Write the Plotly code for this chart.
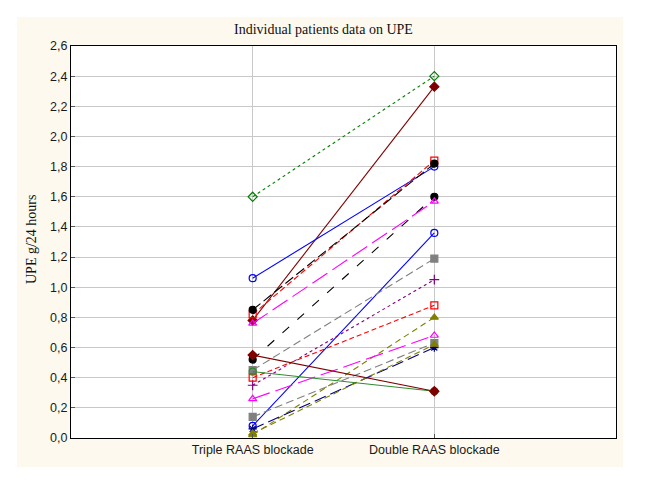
import plotly.graph_objects as go

categories = ["Triple RAAS blockade", "Double RAAS blockade"]
triple = [1.60, 0.78, 1.06, 0.82, 0.85, 0.52, 0.76, 0.08, 0.45, 0.35, 0.40, 0.02, 0.26, 0.14, 0.06, 0.44, 0.55, 0.03]
double = [2.40, 2.33, 1.80, 1.84, 1.82, 1.60, 1.57, 1.36, 1.19, 1.05, 0.88, 0.80, 0.68, 0.63, 0.60, 0.31, 0.31, 0.62]
y_ticks = [0.0, 0.2, 0.4, 0.6, 0.8, 1.0, 1.2, 1.4, 1.6, 1.8, 2.0, 2.2, 2.4, 2.6]

colors = ["#008000", "#800000", "#0000FF", "#FF0000", "#000000", "#000000", "#FF00FF", "#0000FF",
          "#808080", "#800080", "#FF0000", "#808000", "#FF00FF", "#808080", "#000080", "#2E8B2E",
          "#800000", "#808000"]
dashes = ["dot", "solid", "solid", "6px,3px", "10px,4px", "9px,11px", "18px,6px", "solid",
          "8px,4px", "dot", "5px,3px", "6px,4px", "18px,6px", "8px,4px", "12px,5px", "solid",
          "solid", "6px,4px"]
symbols = ["diamond-open", "diamond", "circle-open", "square-open", "circle", "circle", "triangle-up-open",
           "circle-open", "square", "cross-thin-open", "square-open", "triangle-up", "triangle-up-open",
           "square", "asterisk-open", "circle-open", "diamond", "triangle-up"]

fig = go.Figure()
for i in range(len(triple)):
    fig.add_trace(go.Scatter(
        x=[1, 2], y=[triple[i], double[i]], mode="lines+markers",
        line=dict(color=colors[i], width=1.1, dash=dashes[i]),
        marker=dict(symbol=symbols[i], size=7, color=colors[i], line=dict(color=colors[i], width=1.2)),
        showlegend=False, hoverinfo="skip"))

L, R, T, B = 71, 616, 46, 438
W, H = 665, 494
pw, ph = R - L, B - T

fig.update_layout(
    width=W, height=H,
    margin=dict(l=L, r=W - R, t=T, b=H - B, pad=0),
    paper_bgcolor="white", plot_bgcolor="white",
    separators=", ",
    font=dict(family="Liberation Sans, Arial", size=12, color="#222222"),
    xaxis=dict(range=[0, 3], tickvals=[1, 2], ticktext=categories, showgrid=True,
               gridcolor="#C8C8C8", gridwidth=1, zeroline=False, showline=True, linecolor="black",
               linewidth=1, mirror=True, ticks="inside", ticklen=4, tickcolor="#555",
               tickfont=dict(size=12.5, color="#1a1a1a")),
    yaxis=dict(range=[0, 2.6], tickvals=y_ticks, tickformat=".1f", showgrid=True,
               gridcolor="#C8C8C8", gridwidth=1, zeroline=False, showline=True, linecolor="black",
               linewidth=1, mirror=True, ticks="inside", ticklen=4, tickcolor="#555",
               tickfont=dict(size=12.5, color="#1a1a1a")),
    shapes=[
        dict(type="rect", xref="paper", yref="paper", layer="below",
             x0=(17 - L) / pw, x1=(623 - L) / pw, y0=(B - 467) / ph, y1=(B - 17) / ph,
             fillcolor="#FDF9EE", line=dict(width=0)),
        dict(type="rect", xref="paper", yref="paper", layer="below",
             x0=0, x1=1, y0=0, y1=1, fillcolor="white", line=dict(width=0)),
    ],
    annotations=[
        dict(text="Individual patients data on UPE", xref="paper", yref="paper",
             x=(323 - L) / pw, y=(B - 30) / ph, showarrow=False, xanchor="center", yanchor="middle",
             font=dict(family="Liberation Serif, Times New Roman", size=14, color="#111")),
        dict(text="UPE g/24 hours", xref="paper", yref="paper", textangle=-90,
             x=(31 - L) / pw, y=(B - 240) / ph, showarrow=False, xanchor="center", yanchor="middle",
             font=dict(family="Liberation Serif, Times New Roman", size=14, color="#111")),
    ],
)

fig.write_html("out.html")
